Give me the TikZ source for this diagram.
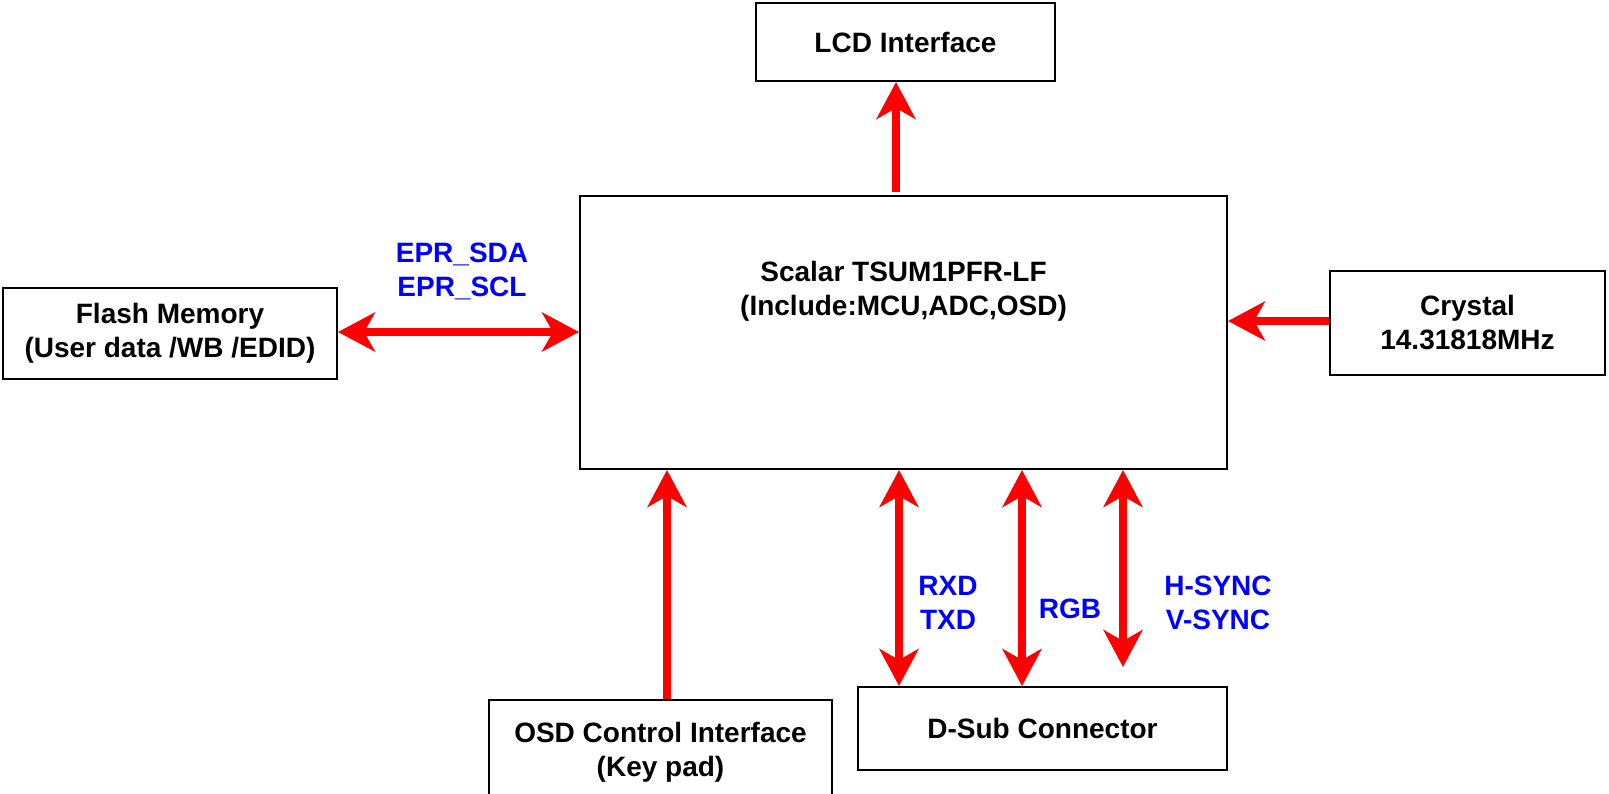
\documentclass[tikz,border=0pt]{standalone}
\usepackage{fontspec}
\setmainfont{Liberation Sans}
\usepackage{tikz}
\usetikzlibrary{arrows.meta, positioning}

\begin{document}
\begin{tikzpicture}[x=0.5pt, y=-0.5pt,
  block/.style={rectangle, draw, line width=1pt, inner sep=0pt, align=center, font=\fontsize{14}{17}\selectfont\bfseries},
  sig/.style={red, line width=4pt, -{Stealth[length=18.5pt, width=19.5pt, inset=5.5pt]}},
  dsig/.style={red, line width=4pt, {Stealth[length=18.5pt, width=19.5pt, inset=5.5pt]}-{Stealth[length=18.5pt, width=19.5pt, inset=5.5pt]}},
  siglabel/.style={text=blue, align=center, inner sep=0pt, font=\fontsize{14}{17}\selectfont\bfseries}
]
  \useasboundingbox (0,0) rectangle (1609,793);

  \node[block, minimum width=149.5pt, minimum height=39pt] (lcd) at (905.5,42) {LCD Interface};
  \node[block, minimum width=323.5pt, minimum height=136.5pt] (scalar) at (903.5,332.5) {};
  \node[siglabel, text=black] (scalartxt) at (903.5,291) {Scalar TSUM1PFR-LF\\(Include:MCU,ADC,OSD)};
  \node[block, minimum width=167pt, minimum height=45.5pt] (flash) at (170,333.5) {Flash Memory\\(User data /WB /EDID)};
  \node[block, minimum width=137.5pt, minimum height=52pt] (crystal) at (1467.5,323) {Crystal\\14.31818MHz};
  \node[block, minimum width=171.5pt, minimum height=52pt] (osd) at (660.5,752) {OSD Control Interface\\(Key pad)};
  \node[block, minimum width=184.5pt, minimum height=41.5pt] (dsub) at (1042.5,728.5) {D-Sub Connector};

  \coordinate (lcdcol) at (896,0);
  \coordinate (osdcol) at (667,0);
  \coordinate (rxdcol) at (899,0);
  \coordinate (rgbcol) at (1022,0);
  \coordinate (synccol) at (1123,0);
  \coordinate (eprrow) at (0,332);
  \coordinate (xtalrow) at (0,321);

  \draw[sig, shorten <=1.5pt] (scalar.north -| lcdcol) -- (lcd.south -| lcdcol);
  \draw[sig] (osd.north -| osdcol) -- (scalar.south -| osdcol);
  \draw[dsig] (flash.east |- eprrow) -- (scalar.west |- eprrow);
  \draw[sig] (crystal.west |- xtalrow) -- (scalar.east |- xtalrow);
  \draw[dsig] (scalar.south -| rxdcol) -- (dsub.north -| rxdcol);
  \draw[dsig] (scalar.south -| rgbcol) -- (dsub.north -| rgbcol);
  \draw[dsig, shorten >=9.5pt] (scalar.south -| synccol) -- (dsub.north -| synccol);

  \node[siglabel] (eprlbl) at (462,271) {EPR\_SDA\\EPR\_SCL};
  \node[siglabel] (rxdlbl) at (948,603) {RXD\\TXD};
  \node[siglabel] (rgblbl) at (1070,609) {RGB};
  \node[siglabel] (synclbl) at (1218,603) {H-SYNC\\V-SYNC};
\end{tikzpicture}
\end{document}
